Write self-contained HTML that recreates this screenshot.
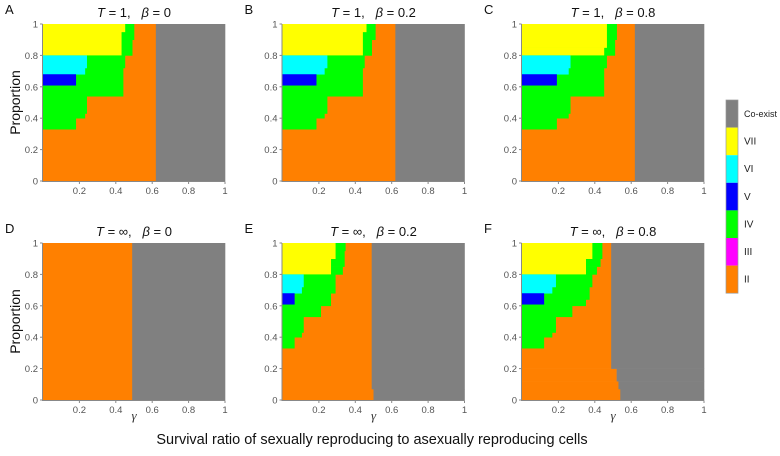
<!DOCTYPE html>
<html><head><meta charset="utf-8"><style>
html,body{margin:0;padding:0;background:#fff;}
svg{display:block;font-family:"Liberation Sans",sans-serif;}
</style></head><body>
<svg id="chart" width="780" height="456" viewBox="0 0 780 456"></svg>
<script>
const categories = ["II","III","IV","V","VI","VII","Co-exist"];
const catColors = {"II":"#ff8000","III":"#ff00ff","IV":"#00ff00","V":"#0000ff","VI":"#00ffff","VII":"#ffff00","Co-exist":"#808080"};
const xTicks = [0.2,0.4,0.6,0.8,1];
const yTicks = [0,0.2,0.4,0.6,0.8,1];
const panelLetters = ["A","B","C","D","E","F"];
const panelT = ["1","1","1","∞","∞","∞"];
const panelBeta = ["0","0.2","0.8","0","0.2","0.8"];
const regionsA = [
 [0,0.62,0,1,"II"],[0.62,1,0,1,"Co-exist"],
 [0,0.50,0.9,1,"IV"],[0,0.49,0.8,0.9,"IV"],
 [0,0.45,0.95,1,"VII"],[0,0.43,0.8,0.95,"VII"],
 [0,0.45,0.72,0.8,"IV"],[0,0.44,0.54,0.72,"IV"],[0,0.24,0.43,0.54,"IV"],[0,0.23,0.4,0.43,"IV"],[0,0.18,0.33,0.4,"IV"],
 [0,0.24,0.72,0.8,"VI"],[0,0.23,0.68,0.72,"VI"],[0,0.18,0.61,0.68,"V"]];
const regionsB = [
 [0,0.62,0,1,"II"],[0.62,1,0,1,"Co-exist"],
 [0,0.51,0.9,1,"IV"],[0,0.49,0.8,0.9,"IV"],
 [0,0.46,0.95,1,"VII"],[0,0.44,0.8,0.95,"VII"],
 [0,0.45,0.72,0.8,"IV"],[0,0.44,0.54,0.72,"IV"],[0,0.245,0.43,0.54,"IV"],[0,0.23,0.4,0.43,"IV"],[0,0.185,0.33,0.4,"IV"],
 [0,0.245,0.72,0.8,"VI"],[0,0.23,0.68,0.72,"VI"],[0,0.185,0.61,0.68,"V"]];
const regionsC = [
 [0,0.62,0,1,"II"],[0.62,1,0,1,"Co-exist"],
 [0,0.52,0.9,1,"IV"],[0,0.51,0.8,0.9,"IV"],
 [0,0.465,0.85,1,"VII"],[0,0.45,0.8,0.85,"VII"],
 [0,0.465,0.72,0.8,"IV"],[0,0.45,0.54,0.72,"IV"],[0,0.265,0.43,0.54,"IV"],[0,0.255,0.4,0.43,"IV"],[0,0.19,0.33,0.4,"IV"],
 [0,0.265,0.72,0.8,"VI"],[0,0.255,0.68,0.72,"VI"],[0,0.19,0.61,0.68,"V"]];
const regionsD = [[0,0.49,0,1,"II"],[0.49,1,0,1,"Co-exist"]];
const regionsE = [
 [0,0.5,0,0.07,"II"],[0,0.49,0.07,1,"II"],[0.5,1,0,0.07,"Co-exist"],[0.49,1,0.07,1,"Co-exist"],
 [0,0.345,0.95,1,"IV"],[0,0.34,0.85,0.95,"IV"],[0,0.33,0.8,0.85,"IV"],
 [0,0.29,0.9,1,"VII"],[0,0.265,0.8,0.9,"VII"],
 [0,0.29,0.68,0.8,"IV"],[0,0.265,0.6,0.68,"IV"],[0,0.21,0.53,0.6,"IV"],[0,0.115,0.43,0.53,"IV"],[0,0.105,0.4,0.43,"IV"],[0,0.065,0.33,0.4,"IV"],
 [0,0.115,0.72,0.8,"VI"],[0,0.105,0.68,0.72,"VI"],[0,0.065,0.61,0.68,"V"]];
const regionsF = [
 [0,0.54,0,0.07,"II"],[0,0.53,0.07,0.12,"II"],[0,0.52,0.12,0.2,"II"],[0,0.49,0.2,1,"II"],
 [0.54,1,0,0.07,"Co-exist"],[0.53,1,0.07,0.12,"Co-exist"],[0.52,1,0.12,0.2,"Co-exist"],[0.49,1,0.2,1,"Co-exist"],
 [0,0.44,0.9,1,"IV"],[0,0.43,0.85,0.9,"IV"],[0,0.41,0.8,0.85,"IV"],
 [0,0.385,0.9,1,"VII"],[0,0.35,0.8,0.9,"VII"],
 [0,0.385,0.72,0.8,"IV"],[0,0.37,0.64,0.72,"IV"],[0,0.35,0.6,0.64,"IV"],[0,0.275,0.53,0.6,"IV"],[0,0.185,0.43,0.53,"IV"],[0,0.165,0.4,0.43,"IV"],[0,0.12,0.33,0.4,"IV"],
 [0,0.185,0.72,0.8,"VI"],[0,0.165,0.68,0.72,"VI"],[0,0.12,0.61,0.68,"V"]];
const panelRegions = [regionsA,regionsB,regionsC,regionsD,regionsE,regionsF];

const NS="http://www.w3.org/2000/svg";
const svg=document.getElementById('chart');
function mk(tag,attrs,parent){const e=document.createElementNS(NS,tag);for(const k in attrs)e.setAttribute(k,attrs[k]);(parent||svg).appendChild(e);return e;}
const colX=[43,282.5,522], rowY=[24,243], PW=182, PH=157;

panelRegions.forEach((regs,i)=>{
  const ox=colX[i%3], oy=rowY[Math.floor(i/3)];
  const sx=v=>ox+v*PW, sy=v=>oy+PH-v*PH;
  const g=mk('g',{});
  
  
  regs.forEach(r=>{
    const rc=mk('rect',{x:sx(r[0]),y:sy(r[3]),width:sx(r[1])-sx(r[0])+0.3,height:sy(r[2])-sy(r[3])+0.3,fill:catColors[r[4]]},g);
    
    
  });
  const ax=mk('path',{d:`M${ox-0.5},${oy} V${oy+PH+0.5} H${ox+PW}`,stroke:'#888',fill:'none','stroke-width':1},g);
  
  
  yTicks.forEach(t=>{
    mk('line',{x1:ox-3,x2:ox-0.5,y1:sy(t),y2:sy(t),stroke:'#888'},g);
    const tx=mk('text',{x:ox-5,y:sy(t)+3.5,'text-anchor':'end','font-size':9.5,fill:'#555'},g);
    tx.textContent=String(t);
    
    
  });
  xTicks.forEach(t=>{
    mk('line',{x1:sx(t),x2:sx(t),y1:oy+PH+0.5,y2:oy+PH+3,stroke:'#888'},g);
    const tx=mk('text',{x:sx(t),y:oy+PH+13,'text-anchor':'middle','font-size':9.5,fill:'#555'},g);
    tx.textContent=String(t);
    
    
  });
  const title=mk('text',{x:ox+PW/2,y:oy-7,'text-anchor':'middle','font-size':13,fill:'#111'},g);
  title.innerHTML=`<tspan font-style="italic">T</tspan>\u00A0=\u00A0${panelT[i]},\u00A0\u00A0\u00A0<tspan font-style="italic">β</tspan>\u00A0=\u00A0${panelBeta[i]}`;
  
  
  const lt=mk('text',{x:ox-38,y:oy-10,'font-size':13,fill:'#111'},g);
  lt.textContent=panelLetters[i];
  
  
  if(i%3===0){
    const yl=mk('text',{x:0,y:0,'text-anchor':'middle','font-size':14,fill:'#111',transform:`translate(20,${oy+PH/2}) rotate(-90)`},g);
    yl.textContent='Proportion';
    
    
  }
  if(i>=3){
    const gl=mk('text',{x:ox+PW/2,y:oy+PH+20,'text-anchor':'middle','font-size':13,fill:'#333','font-family':'Liberation Serif, serif','font-style':'italic'},g);
    gl.textContent='γ';
    
    
  }
});
const lg=mk('g',{});


const legOrder=["Co-exist","VII","VI","V","IV","III","II"];
legOrder.forEach((c,j)=>{
  const y=100+j*27.6;
  const r=mk('rect',{x:726,y:y,width:12,height:27.6,fill:catColors[c]},lg);
  
  
  const t=mk('text',{x:744,y:y+17,'font-size':c==="Co-exist"?9:10,fill:'#222'},lg);
  t.textContent=c;
  
  
});
mk('rect',{x:726,y:100,width:12,height:193.2,fill:'none',stroke:'#999','stroke-width':0.7},lg);
const bt=mk('text',{x:372,y:444,'text-anchor':'middle','font-size':14.5,fill:'#111'});
bt.textContent='Survival ratio of sexually reproducing to asexually reproducing cells';


</script>
</body></html>
